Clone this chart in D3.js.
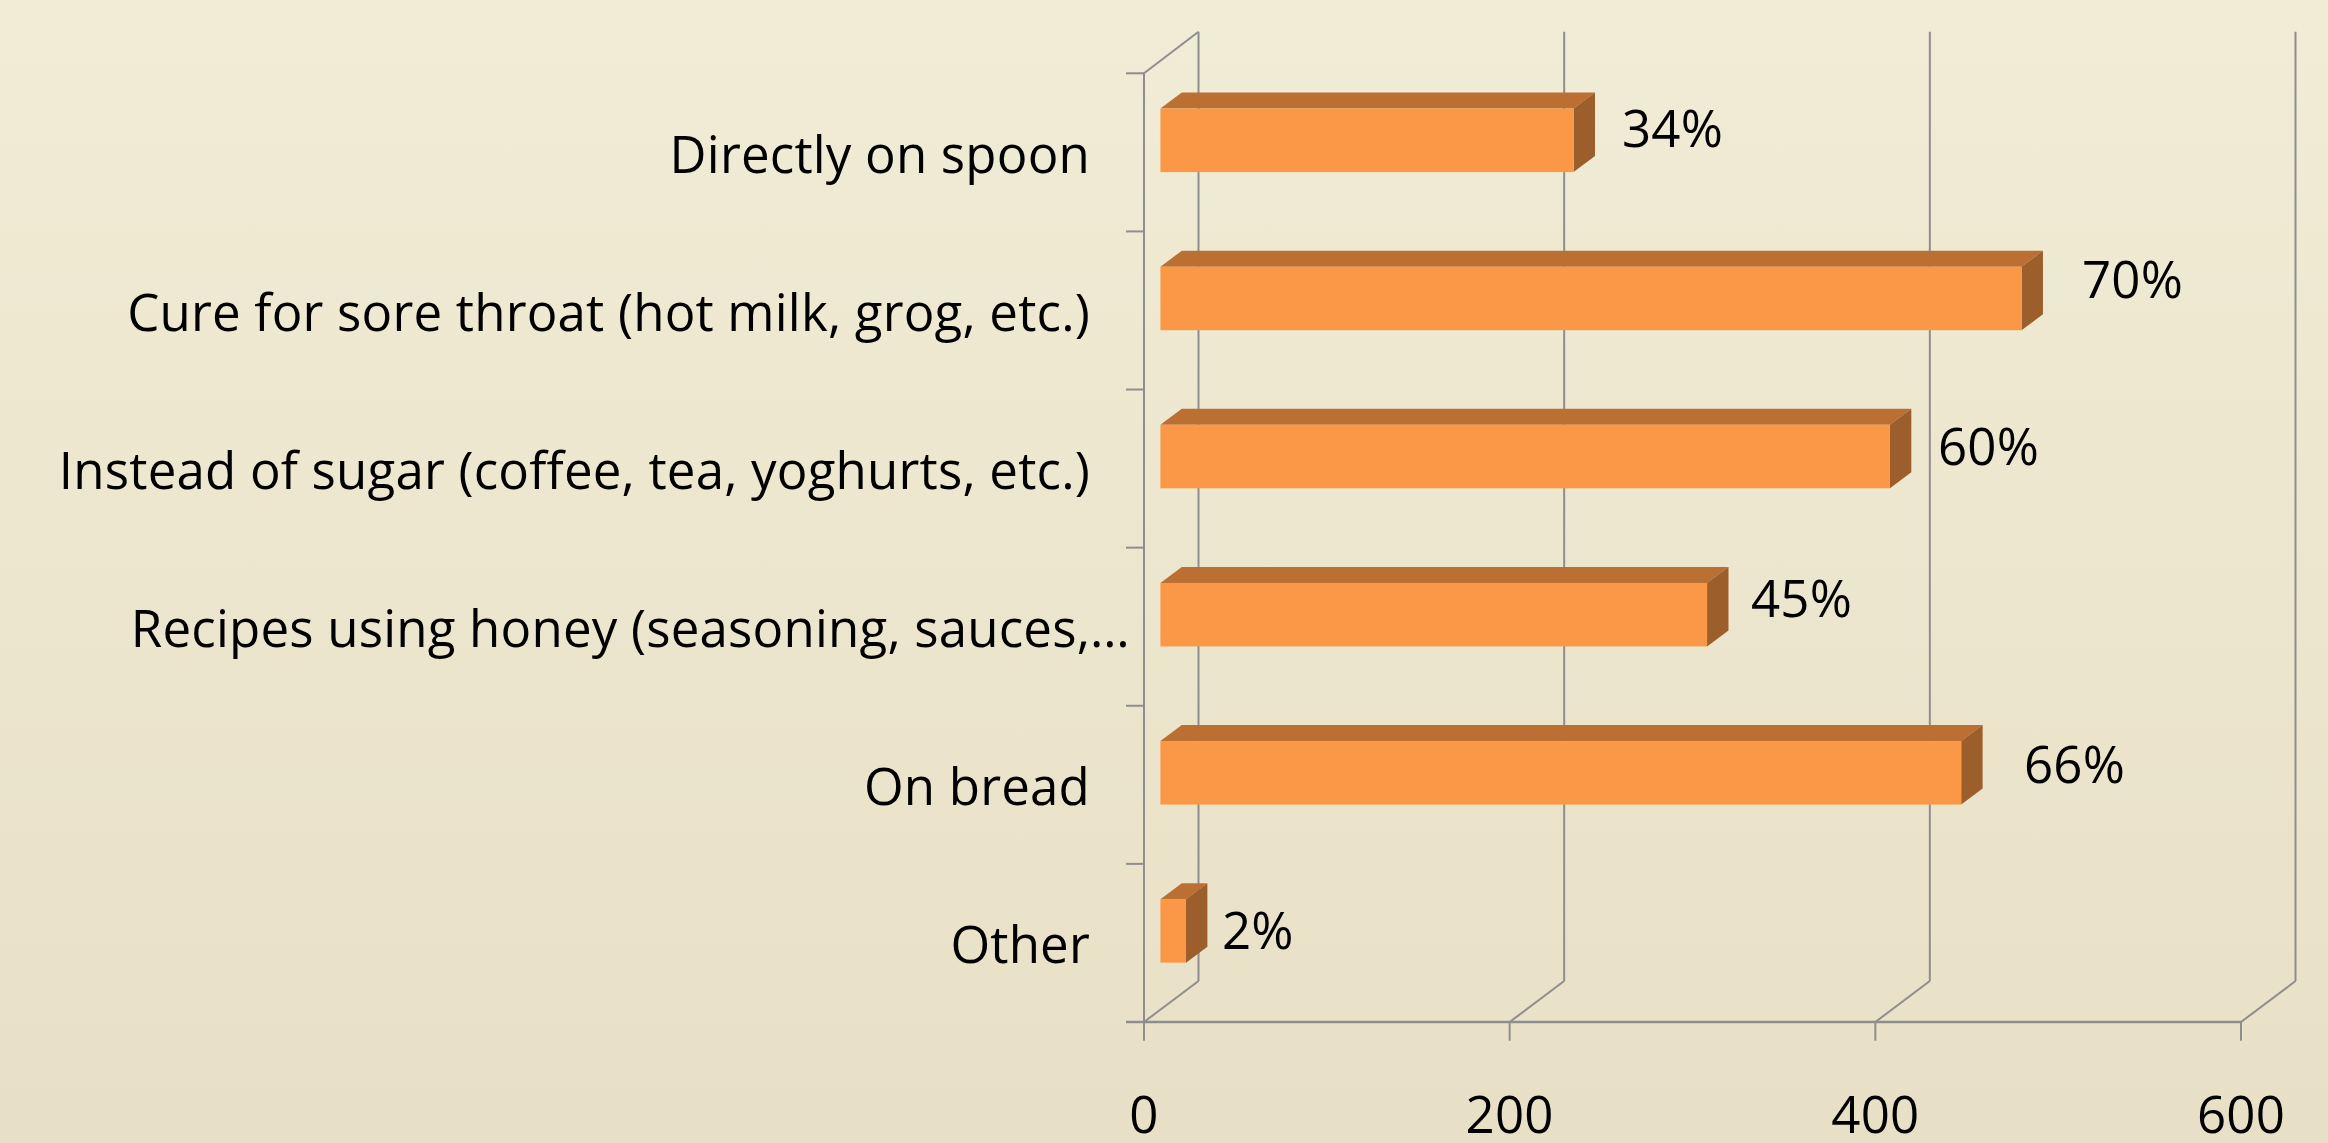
<!DOCTYPE html>
<html><head><meta charset="utf-8">
<script src="https://cdn.jsdelivr.net/npm/d3@7"></script>
<style>html,body{margin:0;padding:0;overflow:hidden}svg{display:block}</style></head>
<body><svg id="c" width="2328" height="1143"></svg>
<script>
const categories = ["Directly on spoon","Cure for sore throat (hot milk, grog, etc.)","Instead of sugar (coffee, tea, yoghurts, etc.)","Recipes using honey (seasoning, sauces,…","On bread","Other"];
const values = [226,471,399,299,438,14];
const percentLabels = ["34%","70%","60%","45%","66%","2%"];
const xTicks = [0,200,400,600];

const W=2328,H=1143,FONT="'Open Sans'";
const svg=d3.select("#c");
const defs=svg.append("defs");
const g=defs.append("linearGradient").attr("id","bg").attr("x1",0).attr("y1",0).attr("x2",0).attr("y2",1);
g.append("stop").attr("offset",0).attr("stop-color","#f1ecd6");
g.append("stop").attr("offset",1).attr("stop-color","#e8e0c6");
svg.append("rect").attr("width",W).attr("height",H).attr("fill","url(#bg)");

const x=d3.scaleLinear().domain([0,600]).range([1144,2241]);
const y=d3.scaleBand().domain(categories).range([73.3,1022]);
const dx=54.5,dy=41;
const bx=16.4,bd=21.4,bdy=16;
const grid="#8e8e8e";
const line=(a,b,c,d,w=2)=>svg.append("line").attr("x1",a).attr("y1",b).attr("x2",c).attr("y2",d).attr("stroke",grid).attr("stroke-width",w);

xTicks.forEach(t=>{
  const X=x(t);
  line(X+dx,31.7,X+dx,1022-dy);
  line(X,1022,X+dx,1022-dy);
  line(X,1022,X,1040.7);
});
line(1144,73.3,1144+dx,31.7);
line(1144,73.3,1144,1022);
line(1126,1022,x(600),1022,2.4);
[...categories.map(c=>y(c)),1022].forEach(v=>line(1126,v,1144,v));

const bars=svg.append("g").selectAll("g").data(categories).join("g");
const bw=d=>values[categories.indexOf(d)];
const L=1144+bx;
const scaleBar=d3.scaleLinear().domain([0,600]).range([0,x(600)-x(0)]);
const T=d=>y(d)+35.3, BH=63.5;
const poly=(sel,fn,fill)=>sel.append("polygon").attr("fill",fill).attr("points",d=>fn(d).map(p=>p.join(",")).join(" "));
poly(bars,d=>{const r=L+scaleBar(bw(d));return [[L,T(d)],[L+bd,T(d)-bdy],[r+bd,T(d)-bdy],[r,T(d)]]},"#bc6f33");
poly(bars,d=>{const r=L+scaleBar(bw(d));return [[r,T(d)],[r+bd,T(d)-bdy],[r+bd,T(d)+BH-bdy],[r,T(d)+BH]]},"#9c5e2a");
bars.append("rect").attr("x",L).attr("y",T).attr("width",d=>scaleBar(bw(d))).attr("height",BH).attr("fill","#fb9847");

const txt=(X,Y,s,a)=>svg.append("text").attr("x",X).attr("y",Y).attr("text-anchor",a).attr("font-family",FONT).attr("font-size",51).attr("letter-spacing",0.2).attr("fill","#000").text(s);
const catX=[1090,1090,1090,1130,1090,1090], catY=[172.5,330.5,488.5,646.5,805,963];
categories.forEach((c,i)=>txt(catX[i],catY[i],c,"end"));
const pctX=[1622,2082,1938,1751,2024,1222], pctY=[147,298,465,617,783,949];
percentLabels.forEach((c,i)=>txt(pctX[i],pctY[i],c,"start"));
xTicks.forEach(t=>txt(x(t),1133,String(t),"middle"));
</script></body></html>
